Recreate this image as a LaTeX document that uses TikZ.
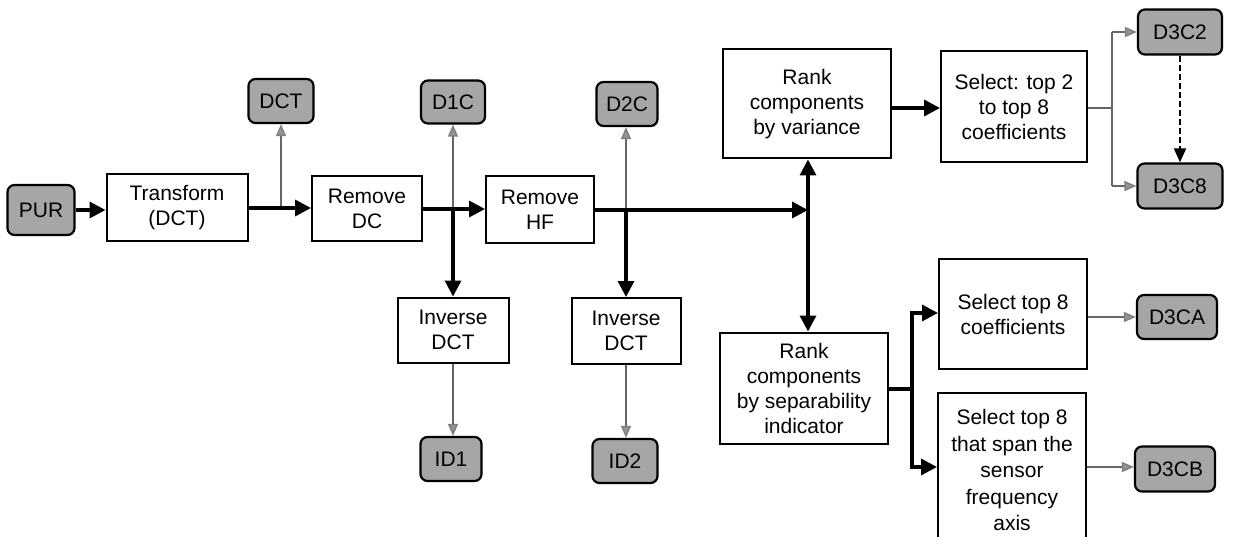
\documentclass[tikz,border=0pt]{standalone}
\usepackage{fontspec}
\setmainfont{Liberation Sans}
\usetikzlibrary{arrows.meta}
\begin{document}
\begin{tikzpicture}[x=1pt,y=-1pt,
 txt/.style={font=\fontsize{21}{25}\selectfont},
 box/.style={txt, draw=black, line width=2pt, fill=white, align=center, inner sep=0pt},
 gbox/.style={txt, draw=black, line width=2.2pt, fill=black!35, rounded corners=7pt, inner sep=0pt},
 thickarr/.style={line width=3.4pt, -{Triangle[length=16pt,width=16pt]}},
 thickline/.style={line width=3.4pt},
 grayarr/.style={draw=black!60, line width=1.4pt, -{Triangle[length=12pt,width=10pt,color=black!50,fill=black!42]}},
 grayline/.style={draw=black!60, line width=1.4pt},
 dasharr/.style={line width=1.8pt, dash pattern=on 6pt off 3pt, -{Triangle[length=14pt,width=12pt]}}
]
\useasboundingbox (0,0) rectangle (1244,537);

% nodes
\node[gbox, minimum width=67pt, minimum height=50pt] (pur) at (41,210) {PUR};
\node[box, minimum width=141pt, minimum height=67pt] (trans) at (177,208) {Transform\\(DCT)};
\node[gbox, minimum width=65pt, minimum height=44pt] (dct) at (281,101) {DCT};
\node[box, minimum width=110pt, minimum height=65pt] (rdc) at (367,209) {Remove\\DC};
\node[gbox, minimum width=64pt, minimum height=43pt] (d1c) at (453,102) {D1C};
\node[box, minimum width=108pt, minimum height=67pt] (rhf) at (540,210) {Remove\\HF};
\node[gbox, minimum width=61pt, minimum height=44pt] (d2c) at (627,104) {D2C};
\node[box, minimum width=168pt, minimum height=109pt] (rvar) at (807,104) {Rank\\components\\by variance};
\node[box, minimum width=146pt, minimum height=111pt] (sel2) at (1014,107) {Select: top 2\\to top 8\\coefficients};
\node[gbox, minimum width=84pt, minimum height=45pt] (d3c2) at (1180,32) {D3C2};
\node[gbox, minimum width=85pt, minimum height=45pt] (d3c8) at (1180,186) {D3C8};
\node[box, minimum width=111pt, minimum height=65pt] (inv1) at (453,330) {Inverse\\DCT};
\node[gbox, minimum width=61pt, minimum height=44pt] (id1) at (451,459) {ID1};
\node[box, minimum width=109pt, minimum height=66pt] (inv2) at (626,331) {Inverse\\DCT};
\node[gbox, minimum width=65pt, minimum height=44pt] (id2) at (625,461) {ID2};
\node[box, minimum width=168pt, minimum height=111pt] (rsep) at (804,388) {Rank\\components\\by separability\\indicator};
\node[box, minimum width=148pt, minimum height=110pt] (selA) at (1013,314) {Select top 8\\coefficients};
\node[box, minimum width=148pt, minimum height=154pt, font=\fontsize{21}{26.5}\selectfont] (selB) at (1012,470) {Select top 8\\that span the\\sensor\\frequency\\axis};
\node[gbox, minimum width=80pt, minimum height=44pt] (d3ca) at (1177,317) {D3CA};
\node[gbox, minimum width=80pt, minimum height=45pt] (d3cb) at (1175,469) {D3CB};

% junctions
\coordinate (j1) at (dct.south |- trans.east);
\coordinate (j2) at (inv1.north |- rdc.east);
\coordinate (j3) at (inv2.north |- rhf.east);
\coordinate (split) at (808,210);
\coordinate (b1) at (1112,108);
\coordinate (b1t) at (1112,32);
\coordinate (b1b) at (1112,186);
\coordinate (b2) at (912,389);
\coordinate (b2t) at (912,313);
\coordinate (b2b) at (912,467);

% main chain
\draw[thickarr] (pur.east) -- (pur.east -| trans.west);
\draw[grayarr] (j1) -- (dct.south);
\draw[thickarr] (trans.east) -- (trans.east -| rdc.west);
\draw[grayarr] (j2) -- (j2 |- d1c.south);
\draw[thickarr] (j2) -- (inv1.north);
\draw[thickarr] (rdc.east) -- (rdc.east -| rhf.west);
\draw[grayarr] (j3) -- (j3 |- d2c.south);
\draw[thickarr] (j3) -- (inv2.north);
\draw[thickarr] (rhf.east) -- (split);
\draw[thickarr] (split) -- (split |- rvar.south);
\draw[thickarr] (split) -- (split |- rsep.north);
\draw[grayarr] (inv1.south) -- (inv1.south |- id1.north);
\draw[grayarr] (inv2.south) -- (inv2.south |- id2.north);

% variance branch
\draw[thickarr] (rvar.east |- b1) -- (b1 -| sel2.west);
\draw[grayline] (sel2.east |- b1) -- (b1);
\draw[grayline] (b1t) -- (b1b);
\draw[grayarr] (b1t) -- (d3c2.west);
\draw[grayarr] (b1b) -- (d3c8.west);
\draw[dasharr] (d3c2.south) -- (d3c8.north);

% separability branch
\draw[thickline] (rsep.east |- b2) -- (b2);
\draw[thickline, line cap=rect] (b2t) -- (b2b);
\draw[thickarr] (b2t) -- (b2t -| selA.west);
\draw[thickarr] (b2b) -- (b2b -| selB.west);
\draw[grayarr] (selA.east |- d3ca.west) -- (d3ca.west);
\draw[grayarr] (selB.east |- b2b) -- (b2b -| d3cb.west);
\end{tikzpicture}
\end{document}
